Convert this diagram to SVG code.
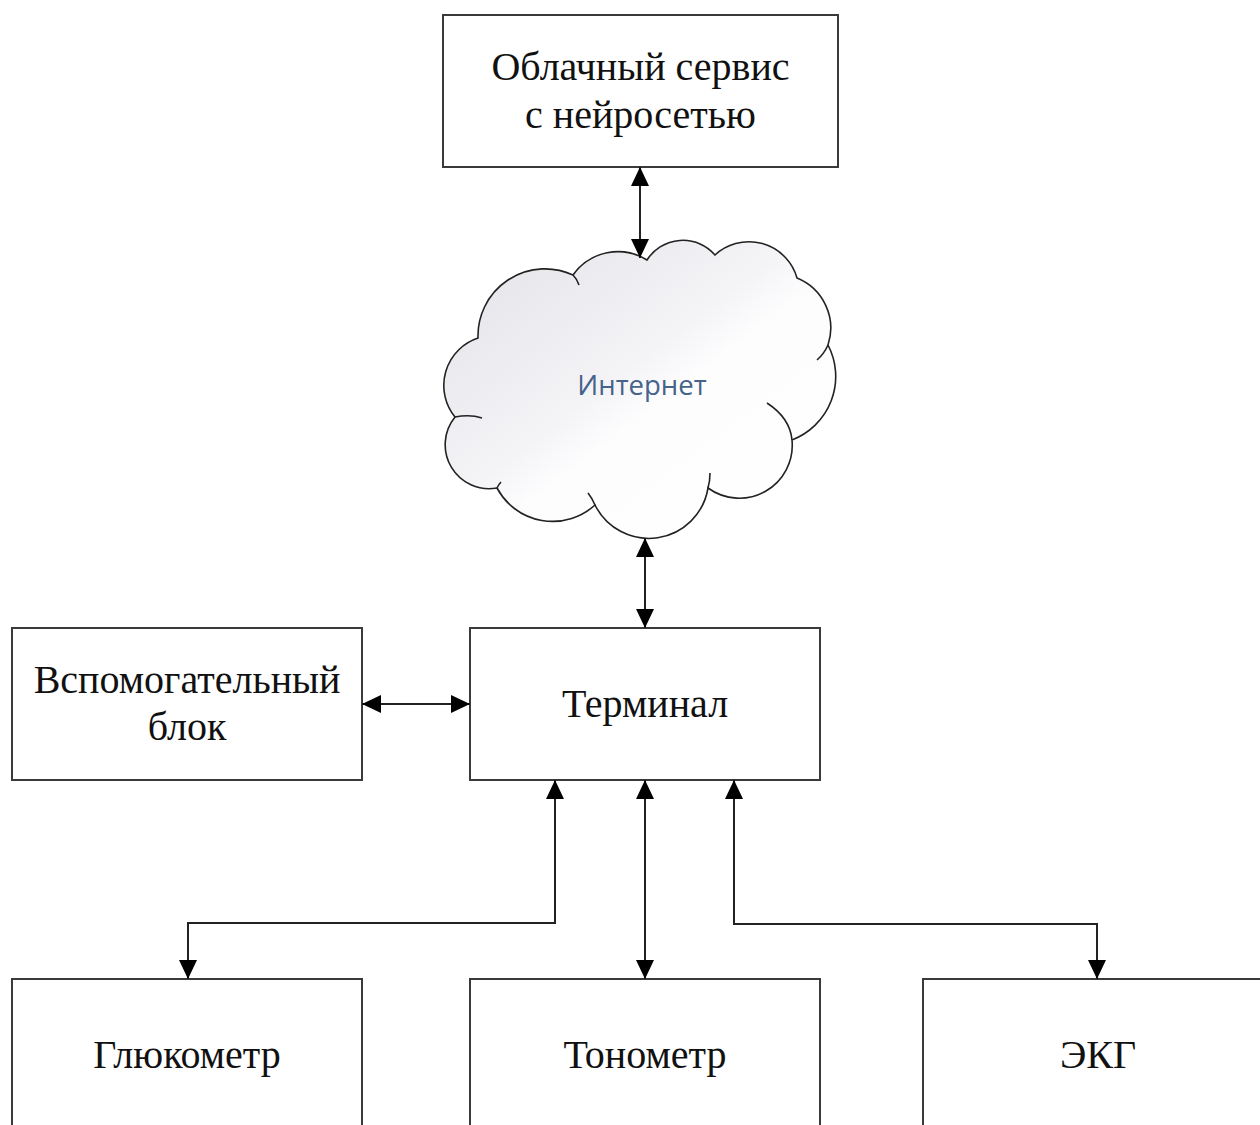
<svg xmlns="http://www.w3.org/2000/svg" width="1260" height="1125" viewBox="0 0 1260 1125">
<style>
.box{fill:#fff;stroke:#3a3a3a;stroke-width:2}
.lbl{font-family:"Liberation Serif","Times New Roman",serif;font-size:40px;fill:#111;text-anchor:middle}
.con{fill:none;stroke:#222;stroke-width:2}
.cloud{stroke:#222;stroke-width:1.6}
.tail{fill:none;stroke:#222;stroke-width:1.6}
</style>
<defs>
<marker id="ah" viewBox="0 0 19 18" markerUnits="userSpaceOnUse" markerWidth="19" markerHeight="18" refX="19" refY="9" orient="auto-start-reverse">
<path d="M0,0 L19,9 L0,18 z" fill="#000"/>
</marker>
<linearGradient id="cg" x1="0" y1="0" x2="1" y2="1">
<stop offset="0" stop-color="#e2e2e7"/>
<stop offset="0.45" stop-color="#f4f4f7"/>
<stop offset="0.55" stop-color="#fdfdfe"/>
<stop offset="1" stop-color="#ffffff"/>
</linearGradient>
</defs>
<rect width="1260" height="1125" fill="#fff"/>
<g id="cloud-service">
<rect class="box" x="443" y="15" width="395" height="152"/>
<text class="lbl" x="640.5" y="80">Облачный сервис</text>
<text class="lbl" x="640.5" y="128">с нейросетью</text>
</g>
<g id="internet">
<path class="cloud" fill="url(#cg)" d="M478,338 A67,67 0 0 1 573,275 A55,55 0 0 1 647,260 A42.5,42.5 0 0 1 715,255 A50,50 0 0 1 797,278 A54,54 0 0 1 828,345 A68,68 0 0 1 792,440 A53,53 0 0 1 708,488 A60,60 0 0 1 595,505 A63,63 0 0 1 497,488 A44,44 0 0 1 455,417 A50,50 0 0 1 478,338 Z"/>
<path class="tail" d="M573,275 Q577,279 579,285"/>
<path class="tail" d="M828,345 Q824,354 817,360"/>
<path class="tail" d="M767,403 Q790,418 792,440"/>
<path class="tail" d="M710,473 Q710,481 708,488"/>
<path class="tail" d="M595,505 Q592,498 588,493"/>
<path class="tail" d="M455,417 Q470,414 482,418"/>
<path class="tail" d="M497,488 Q499,484 501,482"/>
<text x="642" y="395" font-family="'Open Sans','Noto Sans',sans-serif" font-size="27.5" fill="#46638a" text-anchor="middle">Интернет</text>
</g>
<g id="aux-block">
<rect class="box" x="12" y="628" width="350" height="152"/>
<text class="lbl" x="187" y="693">Вспомогательный</text>
<text class="lbl" x="187" y="740">блок</text>
</g>
<g id="terminal">
<rect class="box" x="470" y="628" width="350" height="152"/>
<text class="lbl" x="645" y="717">Терминал</text>
</g>
<g id="glucometer">
<rect class="box" x="12" y="979" width="350" height="152"/>
<text class="lbl" x="187" y="1068">Глюкометр</text>
</g>
<g id="tonometer">
<rect class="box" x="470" y="979" width="350" height="152"/>
<text class="lbl" x="645" y="1068">Тонометр</text>
</g>
<g id="ecg">
<rect class="box" x="923" y="979" width="350" height="152"/>
<text class="lbl" x="1098" y="1068">ЭКГ</text>
</g>
<g id="connectors">
<path class="con" d="M640,167 V258" marker-start="url(#ah)" marker-end="url(#ah)"/>
<path class="con" d="M645,538 V628" marker-start="url(#ah)" marker-end="url(#ah)"/>
<path class="con" d="M362,704 H470" marker-start="url(#ah)" marker-end="url(#ah)"/>
<path class="con" d="M555,780 V923 H188 V979" marker-start="url(#ah)" marker-end="url(#ah)"/>
<path class="con" d="M645,780 V979" marker-start="url(#ah)" marker-end="url(#ah)"/>
<path class="con" d="M734,780 V924 H1097 V979" marker-start="url(#ah)" marker-end="url(#ah)"/>
</g>
</svg>
